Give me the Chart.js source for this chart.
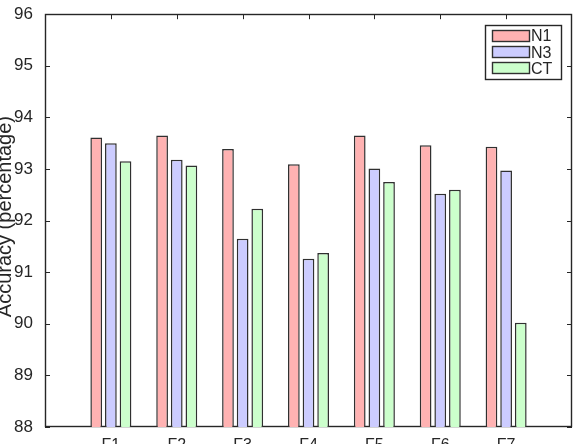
<!DOCTYPE html>
<html>
<head>
<meta charset="utf-8">
<script src="https://cdn.jsdelivr.net/npm/chart.js@4"></script>
<style>
  html, body { margin: 0; padding: 0; background: #fff; }
  #wrap { width: 588px; height: 444px; }
</style>
</head>
<body>
<div id="wrap"><canvas id="bar_chart" width="588" height="444"></canvas></div>
<script>
const categories = ['F1', 'F2', 'F3', 'F4', 'F5', 'F6', 'F7'];
const n1 = [93.61, 93.65, 93.39, 93.09, 93.65, 93.46, 93.43];
const n3 = [93.50, 93.18, 91.65, 91.26, 93.01, 92.52, 92.97];
const ct = [93.15, 93.07, 92.23, 91.37, 92.75, 92.60, 90.02];
const yTicks = [88, 89, 90, 91, 92, 93, 94, 95, 96];
const yTitle = 'Accuracy (percentage)';

const axisColor = '#262626';
const fontName = '"Liberation Sans", Arial, Helvetica, sans-serif';

// 양 끝에 빈 칸을 두어 MATLAB 처럼 배치
function pad(arr) { return [null, ...arr, null]; }

// 축 박스 + 안쪽 눈금
const framePlugin = {
  id: 'frame',
  beforeDatasetsDraw(chart) {
    const { ctx, chartArea: a, scales: { x, y } } = chart;
    ctx.save();
    ctx.strokeStyle = axisColor;
    ctx.lineWidth = 1;
    ctx.beginPath();
    y.ticks.forEach(t => {
      const py = Math.round(y.getPixelForValue(t.value)) + 0.5;
      ctx.moveTo(a.left, py); ctx.lineTo(a.left + 5, py);
      ctx.moveTo(a.right, py); ctx.lineTo(a.right - 5, py);
    });
    categories.forEach((c, i) => {
      const px = Math.round(x.getPixelForValue(i + 1)) + 0.5;
      ctx.moveTo(px, a.top); ctx.lineTo(px, a.top + 5);
      ctx.moveTo(px, a.bottom); ctx.lineTo(px, a.bottom - 5);
    });
    ctx.stroke();
    ctx.lineWidth = 1.4;
    ctx.strokeRect(Math.round(a.left) + 0.5, Math.round(a.top) + 0.5,
                   Math.round(a.width) - 1, Math.round(a.height) - 1);
    ctx.restore();
  }
};

// 세로축 제목
const titlePlugin = {
  id: 'yTitle',
  afterDraw(chart) {
    const { ctx, chartArea: a } = chart;
    ctx.save();
    ctx.translate(11, (a.top + a.bottom) / 2 - 4);
    ctx.rotate(-Math.PI / 2);
    ctx.font = '20px ' + fontName;
    ctx.fillStyle = axisColor;
    ctx.textAlign = 'center';
    ctx.textBaseline = 'alphabetic';
    ctx.fillText(yTitle, 0, 0);
    ctx.restore();
  }
};

// 박스 범례 (오른쪽 위)
const legendPlugin = {
  id: 'boxLegend',
  afterDraw(chart) {
    const { ctx, chartArea: a } = chart;
    const w = 76, h = 54;
    const left = Math.round(a.right - 11 - w), top = Math.round(a.top + 11);
    ctx.save();
    ctx.fillStyle = '#fff';
    ctx.fillRect(left, top, w, h);
    ctx.strokeStyle = axisColor;
    ctx.lineWidth = 1.4;
    ctx.strokeRect(left + 0.5, top + 0.5, w, h);
    ctx.font = '16px ' + fontName;
    ctx.textBaseline = 'middle';
    chart.data.datasets.forEach((ds, i) => {
      const cy = top + 11 + i * 16.2;
      const sy = Math.round(cy - 6);
      ctx.fillStyle = ds.backgroundColor;
      ctx.fillRect(left + 7, sy, 38, 12);
      ctx.strokeStyle = ds.borderColor;
      ctx.lineWidth = 1.4;
      ctx.strokeRect(left + 7.5, sy + 0.5, 37, 11);
      ctx.fillStyle = axisColor;
      ctx.fillText(ds.label, left + 46, cy + 1);
    });
    ctx.restore();
  }
};

const ctxBar = document.getElementById('bar_chart');
new Chart(ctxBar, {
  type: 'bar',
  data: {
    labels: ['', ...categories, ''],
    datasets: [
      { label: 'N1', data: pad(n1), backgroundColor: 'rgb(255,178,178)', borderColor: '#303030', borderWidth: 1.5 },
      { label: 'N3', data: pad(n3), backgroundColor: 'rgb(204,204,255)', borderColor: '#303030', borderWidth: 1.5 },
      { label: 'CT', data: pad(ct), backgroundColor: 'rgb(204,255,204)', borderColor: '#303030', borderWidth: 1.5 }
    ]
  },
  options: {
    responsive: false,
    animation: false,
    layout: { padding: { top: 12, right: 16, bottom: 0, left: 0 } },
    datasets: {
      bar: { categoryPercentage: 0.667, barPercentage: 0.8 }
    },
    scales: {
      x: {
        offset: false,
        grid: { display: false },
        border: { display: false },
        ticks: {
          color: axisColor,
          font: { family: fontName, size: 16 },
          padding: 1,
          maxRotation: 0,
          autoSkip: false
        },
        afterFit(s) { s.height = 17; }
      },
      y: {
        min: yTicks[0],
        max: yTicks[yTicks.length - 1],
        grid: { display: false },
        border: { display: false },
        ticks: {
          color: axisColor,
          font: { family: fontName, size: 17 },
          padding: 4
        },
        afterBuildTicks(s) { s.ticks = yTicks.map(v => ({ value: v })); },
        afterFit(s) { s.width = 45; }
      }
    },
    plugins: {
      legend: { display: false },
      tooltip: { enabled: false }
    }
  },
  plugins: [framePlugin, titlePlugin, legendPlugin]
});
</script>
</body>
</html>
